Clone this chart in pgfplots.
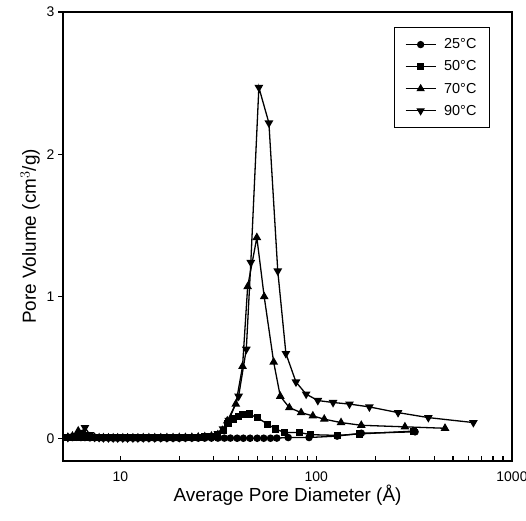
\documentclass[border=0pt]{standalone}
\usepackage{fontspec}
\setmainfont{Liberation Sans}
\usepackage{pgfplots}
\usetikzlibrary{calc}
\pgfplotsset{compat=1.18}
\begin{document}
\begin{tikzpicture}
\begin{semilogxaxis}[
  name=ax,
  scale only axis,
  width=449bp, height=449bp,
  xmin=5.1, xmax=1000,
  ymin=-0.155, ymax=3,
  ytick={0,1,2,3},
  xtick={10,100,1000},
  xticklabels={10,100,1000},
  log ticks with fixed point,
  /pgf/number format/assume math mode=true,
  tick label style={font=\fontsize{14}{14}\selectfont},
  xticklabel style={yshift=-7bp},
  label style={font=\fontsize{19}{20}\selectfont},
  xlabel={Average Pore Diameter (Å)},
  ylabel={Pore Volume (cm$^3$/g)},
  xlabel style={yshift=3bp},
  ylabel style={yshift=0bp},
  axis line style={line width=1.8bp},
  xtick align=inside,
  ytick align=outside,
  ytick pos=left,
  xtick pos=bottom,
  major tick length=5bp,
  minor tick length=5bp,
  tick style={line width=1.1bp, black},
  every axis plot/.append style={black, line width=1.3bp},
  legend style={at={(0.951,0.966)}, anchor=north east, draw=black, line width=1.1bp,
    font=\fontsize{14.5}{14.5}\selectfont, row sep=6.5bp, inner xsep=11bp, inner ysep=9bp},
  legend cell align=left,
  legend image code/.code={\draw[mark repeat=2,mark phase=2,line width=1.1bp] plot coordinates {(0bp,0bp)(15bp,0bp)(30bp,0bp)};},
]
\addplot[mark=*, mark size=3.1bp] coordinates {
(5.4,0.01)(5.7,0.01)(6.0,0.012)(6.3,0.01)(6.6,0.01)(7.0,0.008)(7.4,0.008)(7.8,0.008)(8.2,0.006)(8.7,0.006)
(9.2,0.005)(9.7,0.005)(10.3,0.005)(10.9,0.005)(11.6,0.005)(12.3,0.005)(13.1,0.005)(14.0,0.005)(15.0,0.005)
(16.1,0.005)(17.3,0.005)(18.6,0.005)(20.0,0.005)(21.5,0.006)(23.2,0.006)(25.0,0.006)(27.0,0.006)(29.2,0.006)
(31.5,0.006)(34.0,0.006)(36.5,0.006)(39.5,0.005)(42.5,0.005)(46,0.005)(50,0.005)(54,0.005)(58.5,0.005)(63,0.006)
(72,0.01)(92,0.01)(128,0.02)(170,0.04)(320,0.05)};
\addlegendentry{\hspace{6bp}25°C}
\addplot[mark=square*, mark size=2.9bp] coordinates {
(5.4,0.01)(5.7,0.012)(6.0,0.014)(6.3,0.012)(6.6,0.01)(7.0,0.01)(7.4,0.008)(7.8,0.008)(8.2,0.008)(8.7,0.007)
(9.2,0.007)(9.7,0.007)(10.3,0.007)(10.9,0.007)(11.6,0.007)(12.3,0.007)(13.1,0.007)(14.0,0.008)(15.0,0.008)
(16.1,0.008)(17.3,0.008)(18.6,0.009)(20.0,0.009)(21.5,0.01)(23.2,0.01)(25.0,0.012)(27.0,0.014)(29.2,0.02)
(31.5,0.03)(33.5,0.06)(35.5,0.11)(38,0.14)(40,0.155)(42,0.172)(45.5,0.175)(50,0.15)(56.6,0.103)(62,0.07)
(69,0.045)(82,0.045)(94,0.03)(128,0.025)(166,0.035)(313,0.055)};
\addlegendentry{\hspace{6bp}50°C}
\addplot[mark=triangle*, mark size=3.8bp] coordinates {
(5.4,0.012)(5.7,0.02)(6.1,0.056)(6.6,0.03)(7.0,0.015)(7.4,0.01)(7.8,0.008)(8.2,0.008)(8.7,0.007)
(9.2,0.007)(9.7,0.007)(10.3,0.007)(10.9,0.007)(11.6,0.007)(12.3,0.007)(13.1,0.008)(14.0,0.008)(15.0,0.008)
(16.1,0.008)(17.3,0.009)(18.6,0.009)(20.0,0.01)(21.5,0.01)(23.2,0.011)(25.0,0.013)(27.0,0.015)(29.2,0.02)
(31.5,0.03)(33.2,0.06)(35.2,0.127)(38.9,0.245)(42.1,0.51)(44.7,1.07)(49.8,1.415)(54.3,1.0)(60.7,0.54)
(65.6,0.30)(73,0.22)(83.8,0.185)(96.2,0.162)(110,0.139)(134,0.115)(170,0.096)(284,0.085)(455,0.075)};
\addlegendentry{\hspace{6bp}70°C}
\addplot[mark=triangle*, mark options={rotate=180}, mark size=3.8bp] coordinates {
(5.4,0.01)(5.8,0.02)(6.3,0.045)(6.6,0.08)(7.0,0.03)(7.4,0.012)(7.8,0.01)(8.2,0.008)(8.7,0.008)
(9.2,0.007)(9.7,0.007)(10.3,0.007)(10.9,0.007)(11.6,0.007)(12.3,0.007)(13.1,0.008)(14.0,0.008)(15.0,0.008)
(16.1,0.009)(17.3,0.009)(18.6,0.01)(20.0,0.01)(21.5,0.011)(23.2,0.012)(25.0,0.014)(27.0,0.016)(29.2,0.022)
(31.5,0.035)(33.5,0.07)(35.8,0.13)(40.2,0.30)(44,0.63)(46.4,1.24)(51,2.47)(57.4,2.22)(63.7,1.18)(70.1,0.60)
(78.9,0.40)(88.9,0.315)(102,0.27)(122,0.256)(148,0.245)(187,0.225)(262,0.185)(374,0.15)(635,0.115)};
\addlegendentry{\hspace{6bp}90°C}
\end{semilogxaxis}
\pgfresetboundingbox
\path ($(ax.south west)+(-63bp,-60bp)$) rectangle ($(ax.north east)+(14bp,12bp)$);
\end{tikzpicture}
\end{document}
